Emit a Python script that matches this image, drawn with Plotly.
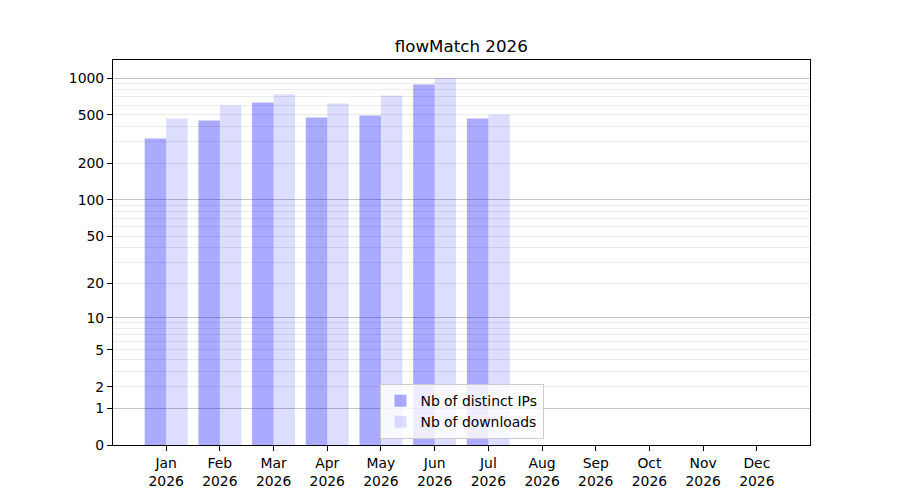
import numpy as np
import plotly.graph_objects as go

# monthly stats
months = ['Jan', 'Feb', 'Mar', 'Apr', 'May', 'Jun',
          'Jul', 'Aug', 'Sep', 'Oct', 'Nov', 'Dec']
year = '2026'
distinct_ips = [320, 449, 630, 475, 493, 884, 466, 0, 0, 0, 0, 0]
downloads = [466, 596, 732, 618, 719, 995, 503, 0, 0, 0, 0, 0]

y_labels = [0, 1, 2, 5, 10, 20, 50, 100, 200, 500, 1000]
major_grid = [1, 10, 100, 1000]
minor_grid = [m * d for d in (1, 10, 100) for m in range(2, 10)]

FONT = 'DejaVu Sans'


def symlog(vals):
    """log10(1 + v), the scale the original axis uses."""
    return list(np.log10(1 + np.asarray(vals, dtype=float)))


x = list(range(len(months)))
ticktext = [m + '<br>' + year for m in months]

fig = go.Figure()
fig.add_trace(go.Bar(x=x, y=symlog(distinct_ips), name='Nb of distinct IPs',
                     marker=dict(color='rgba(0,0,255,0.333)', line=dict(width=0)),
                     customdata=distinct_ips, hovertemplate='%{customdata}'))
fig.add_trace(go.Bar(x=x, y=symlog(downloads), name='Nb of downloads',
                     marker=dict(color='rgba(0,0,255,0.133)', line=dict(width=0)),
                     customdata=downloads, hovertemplate='%{customdata}'))
# empty trace so the overlay axis carrying the darker grid gets drawn
fig.add_trace(go.Scatter(x=[None], y=[None], yaxis='y2', showlegend=False,
                         hoverinfo='skip'))

yrange = [0, np.log10(1 + max(downloads)) * 1.05]

fig.update_layout(
    width=900, height=500,
    margin=dict(l=112.5, r=90, t=60, b=55),
    paper_bgcolor='white', plot_bgcolor='white',
    font=dict(family=FONT, size=13.9, color='black'),
    title=dict(text='flowMatch 2026', x=461.25 / 900, xanchor='center',
               y=1 - 46 / 500, yanchor='middle', yref='container',
               font=dict(size=16.7, color='black')),
    barmode='group', bargap=0.2, bargroupgap=0,
    showlegend=True,
    legend=dict(x=0.5, xanchor='center', y=0.015, yanchor='bottom',
                bgcolor='rgba(255,255,255,0.8)', bordercolor='#cccccc',
                borderwidth=1, font=dict(size=13.9), tracegroupgap=0),
    xaxis=dict(range=[-0.99, 11.99], tickmode='array', tickvals=x,
               ticktext=ticktext, ticks='outside', ticklen=5, tickwidth=1.1,
               tickcolor='black', showline=True, linecolor='black',
               linewidth=1.1, mirror=True, showgrid=False, zeroline=False),
    yaxis=dict(range=yrange, tickmode='array', tickvals=symlog(y_labels),
               ticktext=[str(v) for v in y_labels], ticks='outside',
               ticklen=5, tickwidth=1.1, tickcolor='black', showline=True,
               linecolor='black', linewidth=1.1, mirror=True, showgrid=False,
               zeroline=False,
               minor=dict(tickmode='array', tickvals=symlog(minor_grid),
                          showgrid=True, gridcolor='#ebebeb', gridwidth=1,
                          ticks='')),
    yaxis2=dict(range=yrange, overlaying='y', side='left',
                tickmode='array', tickvals=symlog(major_grid),
                showticklabels=False, ticks='', showgrid=True,
                gridcolor='#c4c4c4', gridwidth=1, zeroline=False,
                showline=False),
)

# drop the browser's default body margin so the figure sits at 0,0
fig.write_html('out.html', config={'displayModeBar': False},
               post_script="document.body.style.margin = '0';")
